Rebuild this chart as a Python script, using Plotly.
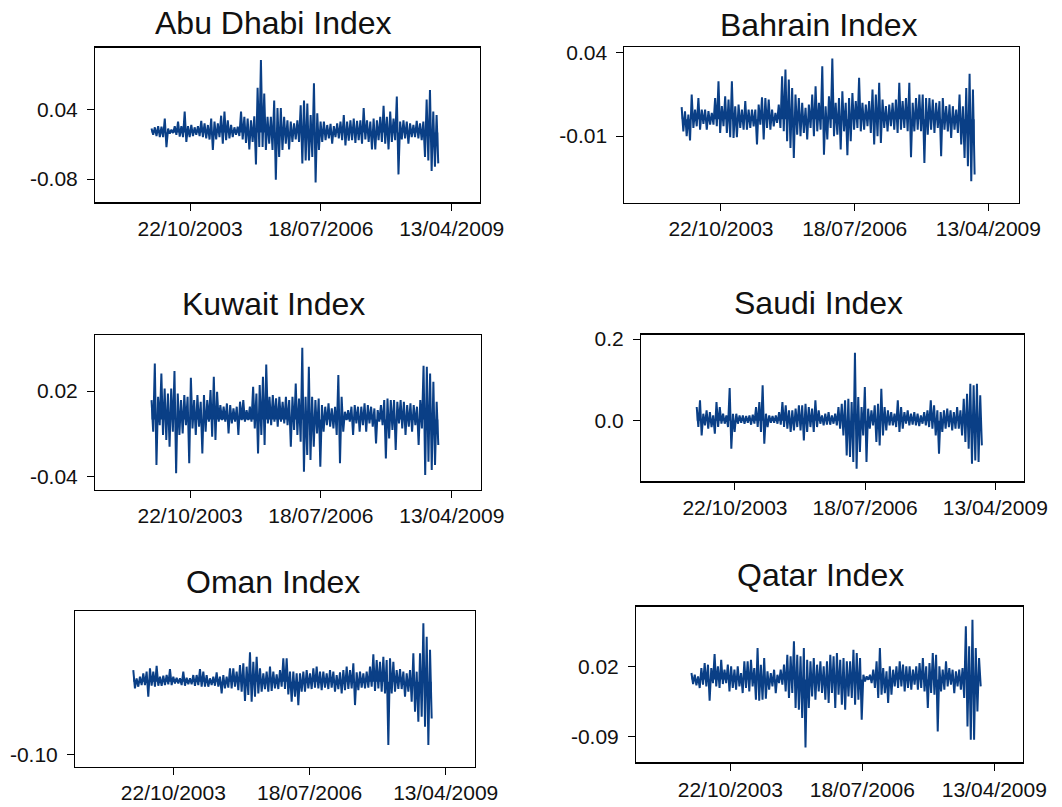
import pandas as pd
import plotly.graph_objects as go

START, END = "2003-01-01", "2008-12-31"
tick_dates = ["2003-10-22", "2006-07-18", "2009-04-13"]
tick_labels = ["22/10/2003", "18/07/2006", "13/04/2009"]

# Daily return series, read as successive local highs / lows
abu_up = [0.007,0.009,0.011,0.010,0.024,0.007,0.005,0.011,0.019,0.011,
          0.036,0.011,0.013,0.009,0.011,0.020,0.016,0.013,0.024,0.019,
          0.016,0.029,0.036,0.021,0.013,0.009,0.010,0.036,0.027,0.024,
          0.021,0.028,0.077,0.125,0.067,0.027,0.027,0.055,0.042,0.042,
          0.027,0.021,0.019,0.016,0.021,0.047,0.055,0.050,0.030,0.085,
          0.033,0.019,0.019,0.013,0.015,0.011,0.016,0.019,0.030,0.019,
          0.021,0.024,0.020,0.021,0.042,0.021,0.019,0.024,0.021,0.027,
          0.046,0.027,0.036,0.024,0.062,0.019,0.021,0.019,0.016,0.013,
          0.020,0.016,0.019,0.057,0.073,0.036,0.030]
abu_dn = [-0.004,-0.006,-0.008,-0.008,-0.025,-0.002,-0.001,-0.004,-0.007,-0.008,
          -0.016,-0.008,-0.006,-0.004,-0.006,-0.008,-0.010,-0.012,-0.030,-0.012,
          -0.008,-0.019,-0.013,-0.010,-0.008,-0.004,-0.006,-0.012,-0.018,-0.029,
          -0.016,-0.055,-0.025,-0.025,-0.030,-0.019,-0.030,-0.081,-0.042,-0.030,
          -0.019,-0.029,-0.016,-0.012,-0.016,-0.053,-0.048,-0.048,-0.042,-0.086,
          -0.030,-0.016,-0.013,-0.010,-0.019,-0.008,-0.010,-0.013,-0.022,-0.014,
          -0.013,-0.018,-0.013,-0.019,-0.012,-0.016,-0.029,-0.029,-0.013,-0.016,
          -0.019,-0.029,-0.016,-0.013,-0.072,-0.012,-0.010,-0.019,-0.008,-0.008,
          -0.010,-0.013,-0.042,-0.048,-0.066,-0.059,-0.053]

bah_up = [0.0072,0.0048,0.0028,0.0147,0.0058,0.0127,0.0058,0.0058,0.0048,0.0038,
          0.0127,0.0227,0.0078,0.0137,0.0117,0.0227,0.0078,0.0088,0.0058,0.0108,
          0.0058,0.0058,0.0058,0.0088,0.0131,0.0127,0.0117,0.0058,0.0038,0.0088,
          0.0257,0.0297,0.0237,0.0187,0.0147,0.0127,0.0098,0.0068,0.0088,0.0147,
          0.0197,0.0098,0.0316,0.0078,0.0137,0.0362,0.0098,0.0127,0.0167,0.0098,
          0.0127,0.0157,0.0108,0.0247,0.0098,0.0088,0.0108,0.0177,0.0147,0.0217,
          0.0117,0.0078,0.0088,0.0098,0.0117,0.0217,0.0108,0.0127,0.0217,0.0098,
          0.0127,0.0147,0.0147,0.0127,0.0127,0.0117,0.0098,0.0108,0.0127,0.0078,
          0.0088,0.0078,0.0058,0.0147,0.0078,0.0187,0.0271,0.0177]
bah_dn = [-0.0072,-0.0101,-0.0127,-0.0052,-0.0042,-0.0062,-0.0028,-0.0062,-0.0032,-0.0032,
          -0.0042,-0.0082,-0.0042,-0.0082,-0.0107,-0.0111,-0.0107,-0.0052,-0.0062,-0.0062,
          -0.0052,-0.0042,-0.0151,-0.0032,-0.0121,-0.0052,-0.0062,-0.0042,-0.0022,-0.0052,
          -0.0072,-0.0131,-0.0171,-0.0231,-0.0092,-0.0101,-0.0082,-0.0121,-0.0052,-0.0101,
          -0.0072,-0.0062,-0.0211,-0.0121,-0.0052,-0.0101,-0.0092,-0.0181,-0.0072,-0.0215,
          -0.0131,-0.0062,-0.0052,-0.0072,-0.0062,-0.0042,-0.0082,-0.0151,-0.0101,-0.0141,
          -0.0052,-0.0072,-0.0042,-0.0062,-0.0082,-0.0062,-0.0052,-0.0072,-0.0227,-0.0072,
          -0.0062,-0.0072,-0.0261,-0.0092,-0.0062,-0.0082,-0.0052,-0.0221,-0.0062,-0.0072,
          -0.0111,-0.0062,-0.0082,-0.0151,-0.0231,-0.0281,-0.0370,-0.0330]

kuw_up = [0.0136,0.0393,0.0160,0.0323,0.0218,0.0183,0.0218,0.0339,0.0183,0.0136,
          0.0171,0.0160,0.0292,0.0136,0.0171,0.0125,0.0171,0.0136,0.0206,0.0299,
          0.0194,0.0101,0.0090,0.0113,0.0101,0.0078,0.0090,0.0125,0.0136,0.0066,
          0.0090,0.0229,0.0183,0.0241,0.0299,0.0386,0.0160,0.0171,0.0148,0.0160,
          0.0125,0.0160,0.0136,0.0160,0.0253,0.0148,0.0502,0.0160,0.0369,0.0160,
          0.0136,0.0148,0.0101,0.0090,0.0113,0.0078,0.0090,0.0311,0.0160,0.0055,
          0.0066,0.0090,0.0101,0.0090,0.0090,0.0113,0.0101,0.0090,0.0078,0.0066,
          0.0101,0.0136,0.0148,0.0136,0.0136,0.0125,0.0136,0.0125,0.0101,0.0113,
          0.0101,0.0090,0.0136,0.0376,0.0369,0.0323,0.0264,0.0125]
kuw_dn = [-0.0085,-0.0318,-0.0039,-0.0108,-0.0143,-0.0190,-0.0085,-0.0376,-0.0108,-0.0097,
          -0.0039,-0.0306,-0.0062,-0.0108,-0.0050,-0.0237,-0.0085,-0.0015,-0.0120,-0.0143,
          -0.0015,-0.0004,-0.0015,-0.0097,-0.0027,-0.0015,-0.0108,-0.0004,-0.0015,-0.0004,
          -0.0015,-0.0062,-0.0237,-0.0108,-0.0178,-0.0027,-0.0039,-0.0015,-0.0050,-0.0015,
          -0.0027,-0.0039,-0.0190,-0.0073,-0.0108,-0.0155,-0.0365,-0.0248,-0.0283,-0.0190,
          -0.0097,-0.0330,-0.0085,-0.0039,-0.0050,-0.0062,-0.0108,-0.0306,-0.0085,-0.0004,
          -0.0015,-0.0108,-0.0027,-0.0085,-0.0039,-0.0085,-0.0027,-0.0050,-0.0167,-0.0015,
          -0.0039,-0.0272,-0.0132,-0.0073,-0.0213,-0.0027,-0.0062,-0.0108,-0.0050,-0.0085,
          -0.0039,-0.0178,-0.0062,-0.0388,-0.0295,-0.0353,-0.0318,-0.0178]

sau_up = [0.0335,0.0498,0.0171,0.0253,0.0212,0.0131,0.0457,0.0335,0.0171,0.0131,
          0.0800,0.0171,0.0171,0.0131,0.0131,0.0114,0.0131,0.0147,0.0335,0.0457,
          0.0865,0.0171,0.0131,0.0114,0.0131,0.0212,0.0457,0.0375,0.0253,0.0253,
          0.0294,0.0375,0.0375,0.0416,0.0335,0.0294,0.0498,0.0253,0.0131,0.0171,
          0.0212,0.0131,0.0171,0.0335,0.0416,0.0498,0.0539,0.0457,0.1665,0.0579,
          0.0335,0.0824,0.0294,0.0253,0.0375,0.0416,0.0783,0.0335,0.0253,0.0212,
          0.0171,0.0498,0.0335,0.0212,0.0253,0.0171,0.0212,0.0171,0.0131,0.0212,
          0.0253,0.0498,0.0375,0.0253,0.0212,0.0253,0.0294,0.0253,0.0212,0.0335,
          0.0253,0.0539,0.0661,0.0906,0.0865,0.0906,0.0620]
sau_dn = [-0.0155,-0.0359,-0.0114,-0.0196,-0.0155,-0.0318,-0.0155,-0.0073,-0.0073,-0.0155,
          -0.0685,-0.0277,-0.0073,-0.0049,-0.0073,-0.0049,-0.0098,-0.0073,-0.0155,-0.0277,
          -0.0563,-0.0155,-0.0049,-0.0049,-0.0073,-0.0098,-0.0155,-0.0196,-0.0277,-0.0237,
          -0.0155,-0.0237,-0.0481,-0.0277,-0.0155,-0.0277,-0.0155,-0.0073,-0.0114,-0.0098,
          -0.0098,-0.0073,-0.0114,-0.0196,-0.0359,-0.0849,-0.0889,-0.1012,-0.1175,-0.0767,
          -0.0359,-0.1012,-0.0196,-0.0114,-0.0522,-0.0604,-0.0359,-0.0237,-0.0114,-0.0114,
          -0.0155,-0.0277,-0.0196,-0.0073,-0.0114,-0.0098,-0.0114,-0.0131,-0.0073,-0.0114,
          -0.0155,-0.0196,-0.0359,-0.0808,-0.0277,-0.0196,-0.0155,-0.0237,-0.0196,-0.0196,
          -0.0359,-0.0522,-0.0685,-0.1053,-0.0971,-0.1012,-0.0604]

oma_up = [0.0159,0.0046,0.0068,0.0114,0.0137,0.0182,0.0137,0.0218,0.0068,0.0082,
          0.0091,0.0173,0.0068,0.0055,0.0046,0.0137,0.0055,0.0046,0.0091,0.0091,
          0.0173,0.0137,0.0091,0.0046,0.0068,0.0127,0.0068,0.0091,0.0068,0.0182,
          0.0182,0.0137,0.0228,0.0250,0.0205,0.0400,0.0273,0.0341,0.0182,0.0114,
          0.0137,0.0205,0.0137,0.0100,0.0159,0.0319,0.0319,0.0137,0.0137,0.0114,
          0.0114,0.0137,0.0159,0.0114,0.0182,0.0205,0.0137,0.0137,0.0114,0.0159,
          0.0137,0.0091,0.0127,0.0159,0.0205,0.0159,0.0250,0.0127,0.0137,0.0114,
          0.0137,0.0205,0.0373,0.0296,0.0273,0.0341,0.0296,0.0319,0.0273,0.0159,
          0.0173,0.0137,0.0114,0.0159,0.0387,0.0137,0.0387,0.0796,0.0614,0.0437]
oma_dn = [-0.0091,-0.0068,-0.0046,-0.0046,-0.0205,-0.0055,-0.0068,-0.0055,-0.0055,-0.0046,
          -0.0036,-0.0046,-0.0023,-0.0023,-0.0046,-0.0055,-0.0036,-0.0036,-0.0055,-0.0046,
          -0.0068,-0.0068,-0.0068,-0.0046,-0.0055,-0.0068,-0.0159,-0.0091,-0.0082,-0.0091,
          -0.0068,-0.0114,-0.0137,-0.0264,-0.0182,-0.0273,-0.0205,-0.0159,-0.0137,-0.0100,
          -0.0137,-0.0127,-0.0091,-0.0100,-0.0068,-0.0100,-0.0173,-0.0273,-0.0205,-0.0319,
          -0.0137,-0.0137,-0.0091,-0.0100,-0.0082,-0.0091,-0.0114,-0.0082,-0.0100,-0.0082,
          -0.0137,-0.0100,-0.0159,-0.0114,-0.0100,-0.0091,-0.0319,-0.0114,-0.0082,-0.0091,
          -0.0082,-0.0068,-0.0127,-0.0091,-0.0137,-0.0159,-0.0865,-0.0159,-0.0137,-0.0100,
          -0.0100,-0.0205,-0.0137,-0.0273,-0.0410,-0.0546,-0.0478,-0.0614,-0.0865,-0.0501]

qat_up = [0.0101,0.0074,0.0048,0.0179,0.0258,0.0232,0.0179,0.0399,0.0205,0.0310,
          0.0153,0.0232,0.0205,0.0153,0.0205,0.0101,0.0284,0.0284,0.0310,0.0179,
          0.0494,0.0232,0.0336,0.0127,0.0101,0.0153,0.0074,0.0153,0.0232,0.0389,
          0.0363,0.0598,0.0389,0.0363,0.0494,0.0310,0.0284,0.0336,0.0232,0.0284,
          0.0205,0.0284,0.0389,0.0363,0.0415,0.0310,0.0336,0.0284,0.0284,0.0467,
          0.0415,0.0336,0.0074,0.0048,0.0074,0.0153,0.0284,0.0494,0.0179,0.0127,
          0.0205,0.0153,0.0205,0.0284,0.0232,0.0205,0.0205,0.0153,0.0205,0.0258,
          0.0336,0.0205,0.0258,0.0415,0.0389,0.0205,0.0153,0.0284,0.0179,0.0153,
          0.0127,0.0153,0.0179,0.0834,0.0520,0.0939,0.0494,0.0336]
qat_dn = [-0.0072,-0.0093,-0.0135,-0.0083,-0.0109,-0.0334,-0.0057,-0.0109,-0.0135,-0.0072,
          -0.0057,-0.0188,-0.0135,-0.0161,-0.0109,-0.0214,-0.0135,-0.0188,-0.0109,-0.0319,
          -0.0334,-0.0319,-0.0303,-0.0161,-0.0109,-0.0214,-0.0057,-0.0083,-0.0188,-0.0292,
          -0.0214,-0.0450,-0.0476,-0.0607,-0.1068,-0.0450,-0.0266,-0.0319,-0.0188,-0.0214,
          -0.0319,-0.0371,-0.0214,-0.0450,-0.0240,-0.0397,-0.0476,-0.0266,-0.0292,-0.0397,
          -0.0319,-0.0633,-0.0030,-0.0004,-0.0057,-0.0135,-0.0292,-0.0240,-0.0214,-0.0371,
          -0.0240,-0.0109,-0.0135,-0.0109,-0.0188,-0.0135,-0.0161,-0.0083,-0.0161,-0.0135,
          -0.0188,-0.0450,-0.0214,-0.0240,-0.0816,-0.0188,-0.0161,-0.0109,-0.0083,-0.0214,
          -0.0109,-0.0161,-0.0292,-0.0738,-0.0947,-0.0947,-0.0502,-0.0109]

W, H = 1062, 807
LINE_COLOR = "#0a3f86"
FONT = "Liberation Sans, Arial, sans-serif"

panels = [
    dict(title="Abu Dhabi Index", up=abu_up, dn=abu_dn, box=(95, 480, 47.7, 201.7),
         yr=[-0.119, 0.146], yt=[0.04, -0.08], yl=["0.04", "-0.08"],
         xr=["2001-10-26", "2009-11-15"], xlw=2, tpos=(273, 22.5)),
    dict(title="Bahrain Index", up=bah_up, dn=bah_dn, box=(624.3, 1019, 46.7, 202.7),
         yr=[-0.0498, 0.0433], yt=[0.04, -0.01], yl=["0.04", "-0.01"],
         xr=["2001-10-29", "2009-11-28"], xlw=1, tpos=(818, 24.5)),
    dict(title="Kuwait Index", up=kuw_up, dn=kuw_dn, box=(95, 480.7, 335, 490),
         yr=[-0.0493, 0.0592], yt=[0.02, -0.04], yl=["0.02", "-0.04"],
         xr=["2001-10-26", "2009-11-20"], xlw=1, tpos=(274, 304.5)),
    dict(title="Saudi Index", up=sau_up, dn=sau_dn, box=(641, 1024.3, 335, 481),
         yr=[-0.1476, 0.2098], yt=[0.2, 0.0], yl=["0.2", "0.0"],
         xr=["2001-10-30", "2009-11-22"], xlw=2, tpos=(818.5, 302.5)),
    dict(title="Oman Index", up=oma_up, dn=oma_dn, box=(75, 475, 610.7, 766.7),
         yr=[-0.116, 0.0969], yt=[-0.10], yl=["-0.10"],
         xr=["2001-10-30", "2009-11-14"], xlw=1, tpos=(273.3, 582)),
    dict(title="Qatar Index", up=qat_up, dn=qat_dn, box=(636, 1022.7, 606.7, 762.3),
         yr=[-0.1302, 0.1143], yt=[0.02, -0.09], yl=["0.02", "-0.09"],
         xr=["2001-11-07", "2009-11-14"], xlw=2, tpos=(820, 574.5)),
]

fig = go.Figure()
annotations = []
for i, p in enumerate(panels, start=1):
    n = len(p["up"])
    dates = pd.date_range(START, END, periods=2 * n)
    vals = []
    for u, d in zip(p["up"], p["dn"]):
        vals += [u, d]
    sfx = "" if i == 1 else str(i)
    fig.add_trace(go.Scatter(x=dates, y=vals, mode="lines",
                             line=dict(color=LINE_COLOR, width=2),
                             fill="tozeroy", fillcolor=LINE_COLOR,
                             xaxis="x" + sfx, yaxis="y" + sfx,
                             showlegend=False, hoverinfo="skip"))
    l, r, t, b = p["box"]
    fig.layout["xaxis" + sfx] = dict(
        domain=[l / W, r / W], anchor="y" + sfx, type="date", range=p["xr"],
        tickmode="array", tickvals=tick_dates, ticktext=tick_labels,
        ticks="outside", ticklen=7, tickwidth=1, tickcolor="black",
        showline=True, mirror=True, linecolor="black", linewidth=p["xlw"],
        showgrid=False, zeroline=False, automargin=False,
        tickfont=dict(family=FONT, size=21, color="#111111"))
    fig.layout["yaxis" + sfx] = dict(
        domain=[1 - b / H, 1 - t / H], anchor="x" + sfx, range=p["yr"],
        tickmode="array", tickvals=p["yt"], ticktext=p["yl"],
        ticks="outside", ticklen=7, tickwidth=1, tickcolor="black",
        showline=True, mirror=True, linecolor="black", linewidth=1,
        showgrid=False, zeroline=False, automargin=False, ticklabelstandoff=5,
        tickfont=dict(family=FONT, size=21, color="#111111"))
    cx, cy = p["tpos"]
    annotations.append(dict(text=p["title"], x=cx / W, y=1 - cy / H,
                            xref="paper", yref="paper", showarrow=False,
                            xanchor="center", yanchor="middle",
                            font=dict(family=FONT, size=32, color="#111111")))

fig.update_layout(width=W, height=H, margin=dict(l=0, r=0, t=0, b=0, pad=0),
                  paper_bgcolor="white", plot_bgcolor="white",
                  annotations=annotations, showlegend=False)
fig.write_html("out.html", config={"responsive": False, "displayModeBar": False},
               post_script="document.body.style.margin='0';"
                           "document.body.style.overflow='hidden';")
